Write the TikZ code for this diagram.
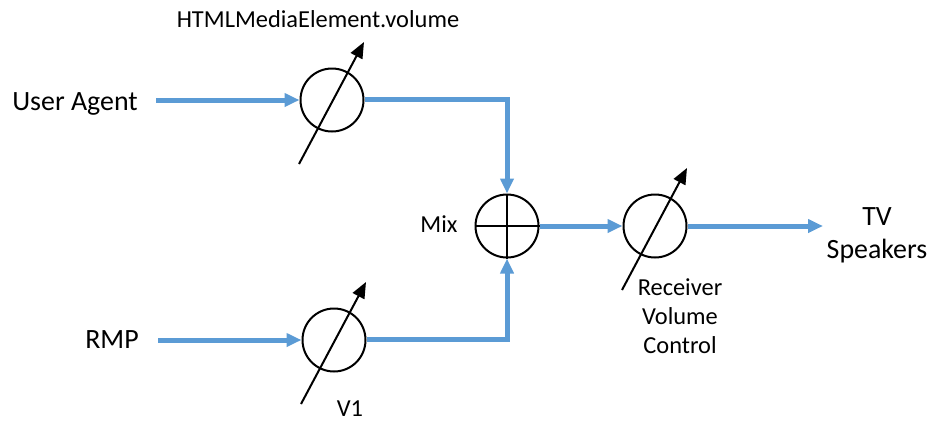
\documentclass[tikz,border=0pt]{standalone}
\usepackage{fontspec}
\setmainfont{Carlito}
\usetikzlibrary{arrows.meta,calc}
\definecolor{flow}{RGB}{91,155,213}
\begin{document}
\begin{tikzpicture}[x=1bp,y=-1bp,
  big/.style={font=\fontsize{28}{33}\selectfont, inner sep=0pt},
  small/.style={font=\fontsize{24.5}{29}\selectfont, inner sep=0pt},
  knob/.style={circle, draw=black, line width=2bp, minimum size=63bp, inner sep=0pt},
  sig/.style={draw=flow, line width=5bp, -{Triangle[length=15bp,width=13bp]}},
  ctrl/.style={draw=black, line width=2bp, -{Triangle[length=16bp,width=13bp]}}]
\useasboundingbox (0,0) rectangle (930,422);
% circles
\node[knob] (c1) at (332,100) {};
\node[knob] (c2) at (334,340) {};
\node[knob] (mix) at (507,226) {};
\node[knob] (c3) at (655,226) {};
\draw[line width=1.5bp] (mix.north) -- (mix.south) (mix.west) -- (mix.east);
% labels
\node[big, anchor=base] (ua) at (75,110) {User Agent};
\node[big, anchor=base] (rmp) at (112,348) {RMP};
\node[small, anchor=base] (html) at (318,27) {HTMLMediaElement.volume};
\node[small, anchor=base] (mixl) at (439,232) {Mix};
\node[small, anchor=base] (v1) at (350,416) {V1};
\node[small, anchor=base, align=center] (rvc) at (680,353) {Receiver\\Volume\\Control};
\node[big, anchor=base, align=center] (tv) at (877,258) {TV\\Speakers};
% free ends
\coordinate (uaend) at (156,100);
\coordinate (rmpend) at (158,340);
\coordinate (out) at (823,226);
\coordinate (j1) at (507,99);
\coordinate (j2) at (507,339);
% signal lines
\draw[sig] (uaend) -- (c1.west);
\draw[sig] (rmpend) -- (c2.west);
\draw[sig] (c1.east |- j1) -- (j1) -- (mix.north);
\draw[sig] (c2.east |- j2) -- (j2) -- (mix.south);
\draw[sig] (mix.east) -- (c3.west);
\draw[sig] (c3.east) -- (out);
% control arrows
\foreach \c in {c1,c2,c3}{
  \draw[ctrl] ($(\c.center)+(-33,64)$) coordinate (\c-lo) -- ($(\c.center)+(32,-58)$) coordinate (\c-hi);
}
\end{tikzpicture}
\end{document}
